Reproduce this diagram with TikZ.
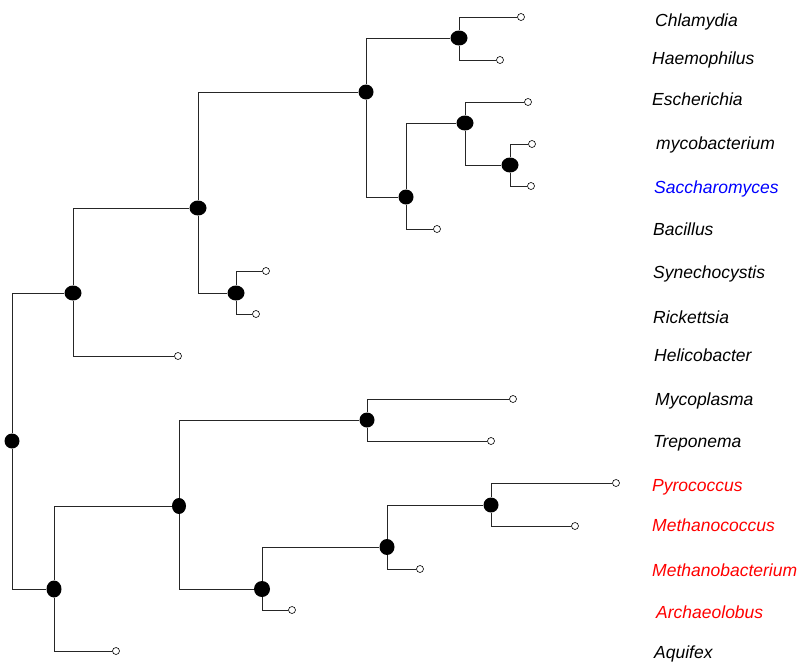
\documentclass[tikz,border=0pt]{standalone}
\usepackage{fontspec}
\setmainfont{Liberation Sans}
\usetikzlibrary{shapes.geometric}

\begin{document}
\begin{tikzpicture}[x=1pt, y=-1pt,
  inner/.style={ellipse, fill, inner sep=0pt, minimum width=15pt, minimum height=15pt},
  wideinner/.style={inner, minimum width=17pt},
  leaf/.style={circle, draw, fill=white, inner sep=0pt, minimum size=7pt, line width=0.6pt},
  taxon/.style={anchor=base west, inner sep=0pt, font=\fontsize{17.5}{20}\selectfont\itshape},
  branch/.style={line width=0.9pt, black!85}]
\useasboundingbox (0,0) rectangle (797,662);
% internal nodes
\node (root) at (12, 441) [inner]{};
\node (a) at (73, 293) [wideinner]{};
\node (b) at (198, 208) [wideinner]{};
\node (c) at (366, 92) [inner]{};
\node (d) at (236, 293) [wideinner]{};
\node (e) at (459, 38) [wideinner]{};
\node (f) at (406, 197) [inner]{};
\node (g) at (465, 123) [wideinner]{};
\node (h) at (510, 165) [wideinner]{};
\node (i) at (54, 589) [inner, minimum height=17pt]{};
\node (j) at (179, 506) [inner, minimum width=14pt, minimum height=16pt]{};
\node (k) at (367, 420) [inner]{};
\node (l) at (262, 589) [inner, minimum width=16pt, minimum height=16pt]{};
\node (m) at (387, 547) [inner, minimum height=16pt]{};
\node (n) at (491, 505) [inner]{};
% leaves
\node (chl) at (521, 17) [leaf]{};
\node (hae) at (500, 60) [leaf]{};
\node (esc) at (528, 102) [leaf]{};
\node (myc) at (532, 144) [leaf]{};
\node (sac) at (531, 186) [leaf]{};
\node (bac) at (437, 229) [leaf]{};
\node (syn) at (266, 271) [leaf]{};
\node (ric) at (256, 314) [leaf]{};
\node (hel) at (178, 356) [leaf]{};
\node (mpl) at (513, 399) [leaf]{};
\node (tre) at (491, 441) [leaf]{};
\node (pyr) at (616, 483) [leaf]{};
\node (mco) at (575, 526) [leaf]{};
\node (mba) at (420, 569) [leaf]{};
\node (arc) at (292, 610) [leaf]{};
\node (aqu) at (116, 651) [leaf]{};
% branches
\draw[branch] (root) |- (a);
\draw[branch] (root) |- (i);
\draw[branch] (a) |- (b);
\draw[branch] (a) |- (hel);
\draw[branch] (b) |- (c);
\draw[branch] (b) |- (d);
\draw[branch] (d) |- (syn);
\draw[branch] (d) |- (ric);
\draw[branch] (c) |- (e);
\draw[branch] (c) |- (f);
\draw[branch] (e) |- (chl);
\draw[branch] (e) |- (hae);
\draw[branch] (f) |- (g);
\draw[branch] (f) |- (bac);
\draw[branch] (g) |- (esc);
\draw[branch] (g) |- (h);
\draw[branch] (h) |- (myc);
\draw[branch] (h) |- (sac);
\draw[branch] (i) |- (j);
\draw[branch] (i) |- (aqu);
\draw[branch] (j) |- (k);
\draw[branch] (j) |- (l);
\draw[branch] (k) |- (mpl);
\draw[branch] (k) |- (tre);
\draw[branch] (l) |- (m);
\draw[branch] (l) |- (arc);
\draw[branch] (m) |- (n);
\draw[branch] (m) |- (mba);
\draw[branch] (n) |- (pyr);
\draw[branch] (n) |- (mco);
% names
\node (tchl) at (655, 26) [taxon]{Chlamydia};
\node (thae) at (652, 64) [taxon]{Haemophilus};
\node (tesc) at (652, 105) [taxon]{Escherichia};
\node (tmyc) at (656, 149) [taxon]{mycobacterium};
\node (tsac) at (654, 193) [taxon, blue]{Saccharomyces};
\node (tbac) at (653, 235) [taxon]{Bacillus};
\node (tsyn) at (653, 278) [taxon]{Synechocystis};
\node (tric) at (653, 323) [taxon]{Rickettsia};
\node (thel) at (654, 361) [taxon]{Helicobacter};
\node (tmpl) at (655, 405) [taxon]{Mycoplasma};
\node (ttre) at (653, 447) [taxon]{Treponema};
\node (tpyr) at (652, 491) [taxon, red]{Pyrococcus};
\node (tmco) at (652, 531) [taxon, red]{Methanococcus};
\node (tmba) at (652, 576) [taxon, red]{Methanobacterium};
\node (tarc) at (656, 618) [taxon, red]{Archaeolobus};
\node (taqu) at (654, 658) [taxon]{Aquifex};
\end{tikzpicture}
\end{document}
